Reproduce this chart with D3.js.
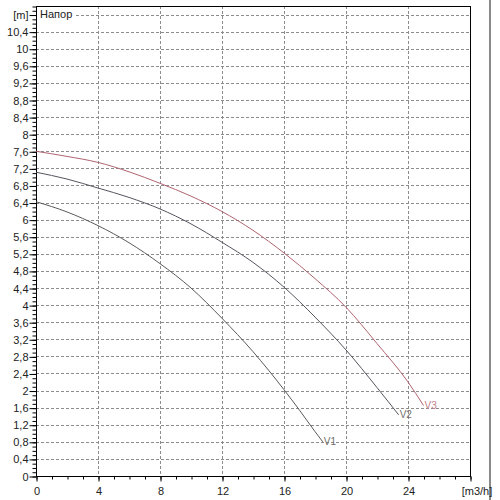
<!DOCTYPE html>
<html>
<head>
<meta charset="utf-8">
<script src="https://cdn.jsdelivr.net/npm/d3@7"></script>
<style>
  html, body { margin: 0; padding: 0; background: #fff; }
  svg { display: block; font-family: "Liberation Sans", Arial, sans-serif; }
</style>
</head>
<body>
<svg id="chart" width="500" height="500"></svg>
<script>
// ---- data ----
const xTickValues = [0, 4, 8, 12, 16, 20, 24];
const xUnitLabel = "[m3/h]";
const yTickValues = [0, 0.4, 0.8, 1.2, 1.6, 2, 2.4, 2.8, 3.2, 3.6, 4, 4.4, 4.8, 5.2, 5.6, 6, 6.4, 6.8, 7.2, 7.6, 8, 8.4, 8.8, 9.2, 9.6, 10, 10.4];
const yUnitLabel = "[m]";
const chartTitle = "Напор";
const seriesNames = ["V1", "V2", "V3"];
const v1Flow = [0, 2, 4, 6, 8, 10, 12, 14, 16, 17, 18, 18.5];
const v1Head = [6.42, 6.18, 5.86, 5.46, 4.97, 4.40, 3.69, 2.91, 2.02, 1.54, 1.04, 0.80];
const v2Flow = [0, 2, 4, 6, 8, 10, 12, 14, 16, 18, 20, 22, 23.4];
const v2Head = [7.11, 6.95, 6.74, 6.52, 6.25, 5.90, 5.47, 5.00, 4.42, 3.72, 2.95, 2.07, 1.43];
const v3Flow = [0, 2, 4, 6, 8, 10, 12, 14, 16, 18, 20, 22, 24, 25];
const v3Head = [7.60, 7.48, 7.34, 7.12, 6.85, 6.55, 6.19, 5.75, 5.22, 4.62, 3.95, 3.10, 2.20, 1.65];

// ---- layout ----
const svg = d3.select("#chart");
const L = 36, R = 470, T = 6, B = 476;
const x = d3.scaleLinear().domain([0, 28]).range([L, R]);
const y = d3.scaleLinear().domain([0, 11]).range([B, T]);
const fmt = d => String(+d.toFixed(1)).replace(".", ",");

// grey window edge at right
svg.append("rect").attr("x", 489).attr("y", 0).attr("width", 2).attr("height", 500).attr("fill", "#8a8a8a");

// grid
const grid = svg.append("g").attr("stroke", "#8c8c8c").attr("stroke-width", 1).attr("stroke-dasharray", "3,2");
xTickValues.filter(v => v > 0).forEach(v => {
  grid.append("line").attr("x1", Math.round(x(v)) + 0.5).attr("x2", Math.round(x(v)) + 0.5)
    .attr("y1", T).attr("y2", B);
});
yTickValues.filter(v => v > 0).concat([10.8]).forEach(v => {
  grid.append("line").attr("y1", Math.round(y(v)) + 0.5).attr("y2", Math.round(y(v)) + 0.5)
    .attr("x1", L).attr("x2", R);
});

// title (with white backing so the grid line does not run through it)
const titleBg = svg.append("rect").attr("fill", "#fff");
const title = svg.append("text").attr("x", L + 4).attr("y", y(10.8)).attr("dy", "0.35em")
  .attr("font-size", 11).attr("fill", "#222").text(chartTitle);
const tb = title.node().getBBox();
titleBg.attr("x", L + 1).attr("y", tb.y).attr("width", tb.width + 5).attr("height", tb.height);

// frame
svg.append("rect").attr("x", L + 0.5).attr("y", T + 0.5).attr("width", R - L).attr("height", B - T)
  .attr("fill", "none").attr("stroke", "#000").attr("stroke-width", 1);

// x axis
const xMinor = d3.range(0, 29, 1);
const xAxisMinor = d3.axisBottom(x).tickValues(xMinor).tickSize(3).tickFormat("");
svg.append("g").attr("transform", `translate(0.5,${B + 0.5})`).call(xAxisMinor)
  .call(g => g.select(".domain").remove());
const xAxis = d3.axisBottom(x).tickValues(xTickValues.concat([28])).tickSize(5).tickPadding(6)
  .tickFormat(d => d === 28 ? xUnitLabel : fmt(d));
svg.append("g").attr("transform", `translate(0.5,${B + 0.5})`).call(xAxis)
  .call(g => g.select(".domain").remove())
  .call(g => g.selectAll("text").attr("font-size", 11).attr("fill", "#222")
    .attr("font-family", "Liberation Sans, Arial, sans-serif"))
  .call(g => g.selectAll("text").filter(d => d === 28).attr("dx", 6));
svg.append("line").attr("x1", L).attr("x2", R + 1).attr("y1", B + 0.5).attr("y2", B + 0.5).attr("stroke", "#000");

// y axis
const yMinor = d3.range(0, 111, 1).map(v => v / 10);
const yAxisMinor = d3.axisLeft(y).tickValues(yMinor).tickSize(4).tickFormat("");
svg.append("g").attr("transform", `translate(${L + 0.5},0.5)`).call(yAxisMinor)
  .call(g => g.select(".domain").remove());
const yAxis = d3.axisLeft(y).tickValues(yTickValues.concat([10.8])).tickSize(7).tickPadding(1)
  .tickFormat(d => Math.abs(d - 10.8) < 1e-9 ? yUnitLabel : fmt(d));
svg.append("g").attr("transform", `translate(${L + 0.5},0.5)`).call(yAxis)
  .call(g => g.select(".domain").remove())
  .call(g => g.selectAll("text").attr("font-size", 11).attr("fill", "#222")
    .attr("font-family", "Liberation Sans, Arial, sans-serif"));

// curves
const series = [
  { name: seriesNames[0], xs: v1Flow, ys: v1Head, color: "#5a5a5a", text: "#707070" },
  { name: seriesNames[1], xs: v2Flow, ys: v2Head, color: "#555560", text: "#707070" },
  { name: seriesNames[2], xs: v3Flow, ys: v3Head, color: "#b06470", text: "#c0808a" }
];
const line = d3.line().x(d => x(d[0])).y(d => y(d[1])).curve(d3.curveMonotoneX);
series.forEach(s => {
  const pts = s.xs.map((v, i) => [v, s.ys[i]]);
  svg.append("path").datum(pts).attr("d", line).attr("fill", "none")
    .attr("stroke", s.color).attr("stroke-width", 1);
  const last = pts[pts.length - 1];
  svg.append("text").attr("x", x(last[0]) + 1).attr("y", y(last[1])).attr("dy", "0.35em")
    .attr("font-size", 10).attr("fill", s.text).text(s.name);
});
</script>
</body>
</html>
